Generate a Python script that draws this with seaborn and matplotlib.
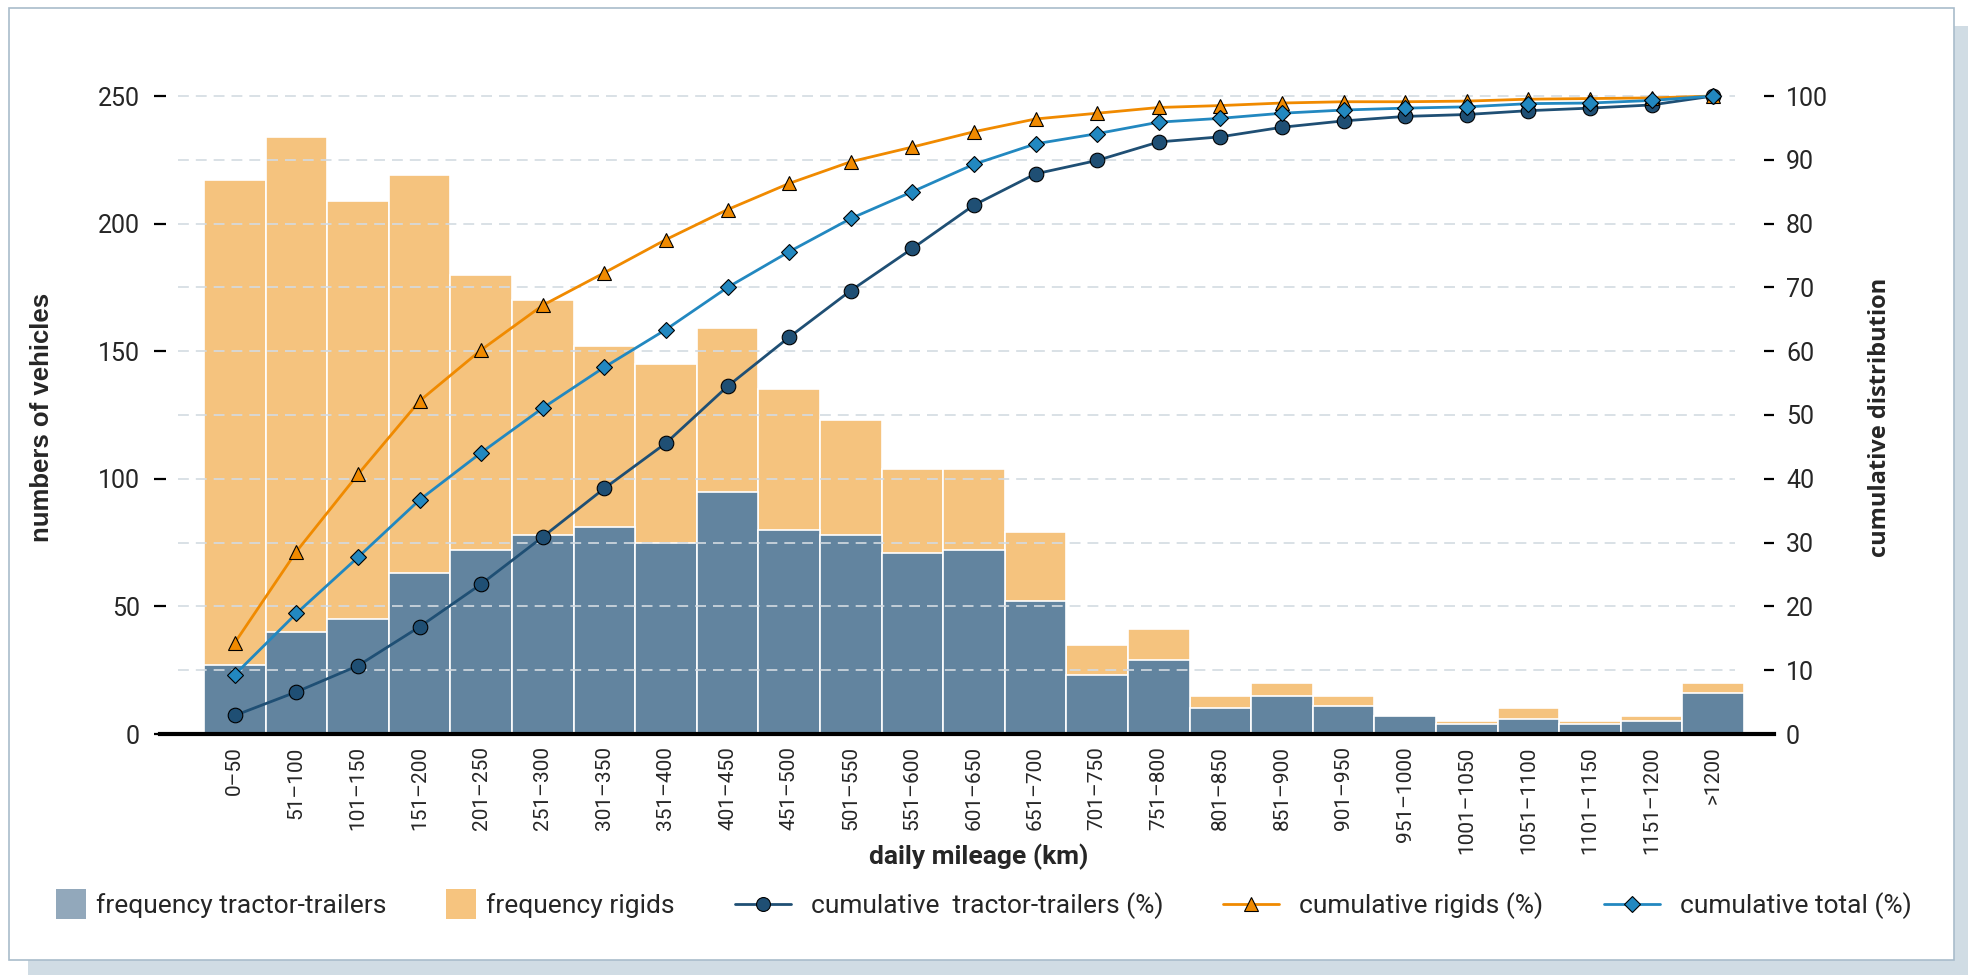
import numpy as np
import matplotlib
matplotlib.use("Agg")
import matplotlib.pyplot as plt
import seaborn as sns
from matplotlib.patches import Rectangle
from matplotlib.lines import Line2D
from matplotlib.legend_handler import HandlerBase, HandlerLine2D
from matplotlib import font_manager

# ---------------- data ----------------
categories = ["0–50", "51–100", "101–150", "151–200", "201–250", "251–300",
              "301–350", "351–400", "401–450", "451–500", "501–550", "551–600",
              "601–650", "651–700", "701–750", "751–800", "801–850", "851–900",
              "901–950", "951–1000", "1001–1050", "1051–1100", "1101–1150",
              "1151–1200", ">1200"]
# stacked bar tops (tractor-trailers + rigids)
freq_total = [217, 234, 209, 219, 180, 170, 152, 145, 159, 135, 123, 104,
              104, 79, 35, 41, 15, 20, 15, 7, 5, 10, 5, 7, 20]
# tractor-trailers (lower segment)
freq_tractor = [27, 40, 45, 63, 72, 78, 81, 75, 95, 80, 78, 71,
                72, 52, 23, 29, 10, 15, 11, 7, 4, 6, 4, 5, 16]
cum_tractor = [2.9, 6.6, 10.7, 16.8, 23.5, 30.9, 38.5, 45.6, 54.5, 62.2, 69.5, 76.1,
               82.9, 87.8, 89.9, 92.8, 93.6, 95.1, 96.1, 96.8, 97.1, 97.7, 98.1, 98.6, 100.0]
cum_rigids = [14.3, 28.6, 40.7, 52.2, 60.2, 67.2, 72.3, 77.5, 82.2, 86.3, 89.7, 92.0,
              94.4, 96.4, 97.3, 98.2, 98.5, 98.9, 99.1, 99.1, 99.2, 99.5, 99.6, 99.7, 100.0]
cum_total = [9.3, 18.9, 27.7, 36.7, 44.1, 51.1, 57.5, 63.4, 70.0, 75.6, 80.8, 85.0,
             89.3, 92.5, 94.1, 95.9, 96.5, 97.3, 97.8, 98.1, 98.3, 98.8, 98.9, 99.3, 100.0]
left_ticks = [0, 50, 100, 150, 200, 250]
right_ticks = [0, 10, 20, 30, 40, 50, 60, 70, 80, 90, 100]
legend_labels = ["frequency tractor-trailers", "frequency rigids",
                 "cumulative  tractor-trailers (%)", "cumulative rigids (%)",
                 "cumulative total (%)"]

# ---------------- style ----------------
C_TR_BAR = "#62849f"
C_RG_BAR = "#f5c37e"
C_TR_LEG = "#92a8bb"
C_RG_LEG = "#f6c47f"
C_TR_LINE = "#1f4f74"
C_RG_LINE = "#f08a00"
C_TO_LINE = "#2288c0"

sns.set_theme(style="white")


def has_font(name):
    try:
        font_manager.findfont(name, fallback_to_default=False)
        return True
    except Exception:
        return False


NARROW = "Liberation Sans Narrow" if has_font("Liberation Sans Narrow") else "Roboto"
plt.rcParams["font.family"] = ["Roboto", "DejaVu Sans"]

W, H = 1968, 975
fig = plt.figure(figsize=(W / 100, H / 100), dpi=100)
fig.patch.set_facecolor("white")

# shadow + white panel
fig.patches.append(Rectangle((28 / W, 0), 1 - 28 / W, 1 - 26 / H, transform=fig.transFigure,
                             facecolor="#d0dce4", edgecolor="none", zorder=-3))
fig.patches.append(Rectangle((9 / W, 1 - 960 / H), (1954 - 9) / W, (960 - 8) / H,
                             transform=fig.transFigure, facecolor="white",
                             edgecolor="#a9bccb", linewidth=1.2, zorder=-2))

ax_left, ax_right, ax_bottom, ax_top = 160, 1774, 734, 70
ax = fig.add_axes([ax_left / W, 1 - ax_bottom / H, (ax_right - ax_left) / W,
                   (ax_bottom - ax_top) / H])
ax.patch.set_alpha(0)

# stacked bars: total (orange) then tractor-trailers (blue) on top
sns.barplot(x=categories, y=freq_total, color=C_RG_BAR, saturation=1, width=1,
            edgecolor="white", linewidth=1.2, errorbar=None, ax=ax, zorder=2)
sns.barplot(x=categories, y=freq_tractor, color=C_TR_BAR, saturation=1, width=1,
            edgecolor="white", linewidth=1.2, errorbar=None, ax=ax, zorder=2)

px_per_unit = (ax_bottom - 96) / 250.0
ytop = (ax_bottom - ax_top) / px_per_unit
ax.set_ylim(0, ytop)
ax.set_xlim(-1.214, 24.987)

for s in ["top", "left", "right"]:
    ax.spines[s].set_visible(False)
ax.spines["bottom"].set_color("black")
ax.spines["bottom"].set_linewidth(3)
ax.spines["bottom"].set_zorder(5)

ax.set_yticks(left_ticks)
ax.set_yticklabels([str(v) for v in left_ticks], fontfamily=NARROW, fontsize=18)
ax.tick_params(axis="y", which="major", direction="inout", length=8, width=1.6,
               color="black", pad=10.5, left=True)
ax.set_xticks(range(len(categories)))
ax.set_xticklabels(categories, rotation=90, fontfamily="Roboto", fontsize=15)
ax.tick_params(axis="x", length=0, pad=9)
ax.set_xlabel("")
ax.set_ylabel("")

# secondary axis
ax2 = ax.twinx()
ax2.set_ylim(0, ytop * 100 / 250)
for s in ["top", "left", "right", "bottom"]:
    ax2.spines[s].set_visible(False)

xmin_f = (178 - ax_left) / (ax_right - ax_left)
xmax_f = (1735 - ax_left) / (ax_right - ax_left)
for v in right_ticks[1:]:
    ax2.axhline(v, xmin=xmin_f, xmax=xmax_f, color="#d3dbe2", linewidth=1.2,
                linestyle=(0, (6.5, 4.2)), zorder=1)

pos = np.arange(len(categories))
sns.lineplot(x=pos, y=cum_tractor, ax=ax2, color=C_TR_LINE, linewidth=2,
             marker="o", markersize=10.5, markerfacecolor=C_TR_LINE,
             markeredgecolor="black", markeredgewidth=0.8, legend=False, zorder=3)
sns.lineplot(x=pos, y=cum_rigids, ax=ax2, color=C_RG_LINE, linewidth=2,
             marker="^", markersize=10.5, markerfacecolor=C_RG_LINE,
             markeredgecolor="black", markeredgewidth=0.8, legend=False, zorder=3)
sns.lineplot(x=pos, y=cum_total, ax=ax2, color=C_TO_LINE, linewidth=2,
             marker="D", markersize=8.5, markerfacecolor=C_TO_LINE,
             markeredgecolor="black", markeredgewidth=0.8, legend=False, zorder=3)
for ln in ax2.lines[-3:]:
    ln.set_clip_on(False)

ax2.set_yticks(right_ticks)
ax2.set_yticklabels([str(v) for v in right_ticks], fontfamily=NARROW, fontsize=18)
ax2.tick_params(axis="y", direction="in", length=7, width=1.6, color="black",
                pad=8.6, right=True)
ax2.set_xlabel("")
ax2.set_ylabel("")
ax2.set_xlim(-1.214, 24.987)

# axis titles
fig.text(42 / W, 1 - 417 / H, "numbers of vehicles", rotation=90, ha="center",
         va="center", fontfamily="Liberation Sans", fontweight="bold", fontsize=18.5)
fig.text(1880 / W, 1 - 417 / H, "cumulative distribution", rotation=90, ha="center",
         va="center", fontfamily="Open Sans", fontweight="bold", fontsize=17)
fig.text(979 / W, 1 - 857 / H, "daily mileage (km)", ha="center", va="center",
         fontfamily="Roboto", fontweight="bold", fontsize=19)


# legend
class SquareHandler(HandlerBase):
    def legend_artist(self, legend, orig_handle, fontsize, handlebox):
        s = 21.6
        handlebox.width = s
        y0 = -handlebox.ydescent + handlebox.height / 2 - s / 2
        r = Rectangle((-handlebox.xdescent, y0), s, s,
                      facecolor=orig_handle.get_facecolor(), edgecolor="none",
                      transform=handlebox.get_transform())
        handlebox.add_artist(r)
        return r


class LineHandler(HandlerLine2D):
    def legend_artist(self, legend, orig_handle, fontsize, handlebox):
        a = super().legend_artist(legend, orig_handle, fontsize, handlebox)
        handlebox.width += 7.2
        return a


handles = [
    Rectangle((0, 0), 1, 1, facecolor=C_TR_LEG),
    Rectangle((0, 0), 1, 1, facecolor=C_RG_LEG),
    Line2D([], [], color=C_TR_LINE, lw=2, marker="o", markersize=10,
           markerfacecolor=C_TR_LINE, markeredgecolor="black", markeredgewidth=0.8),
    Line2D([], [], color=C_RG_LINE, lw=2, marker="^", markersize=10,
           markerfacecolor=C_RG_LINE, markeredgecolor="black", markeredgewidth=0.8),
    Line2D([], [], color=C_TO_LINE, lw=2, marker="D", markersize=8,
           markerfacecolor=C_TO_LINE, markeredgecolor="black", markeredgewidth=0.8),
]
fs_px = 19 * 100 / 72
fig.legend(handles, legend_labels, loc="center left",
           bbox_to_anchor=(56 / W, 1 - 906 / H), ncol=5, frameon=False,
           prop={"family": "Roboto", "size": 19},
           handlelength=56 / fs_px, handletextpad=10 / fs_px,
           columnspacing=60 / fs_px, borderpad=0, borderaxespad=0,
           handler_map={Rectangle: SquareHandler(), Line2D: LineHandler()})

fig.savefig("out.png", dpi=100, facecolor="white")
